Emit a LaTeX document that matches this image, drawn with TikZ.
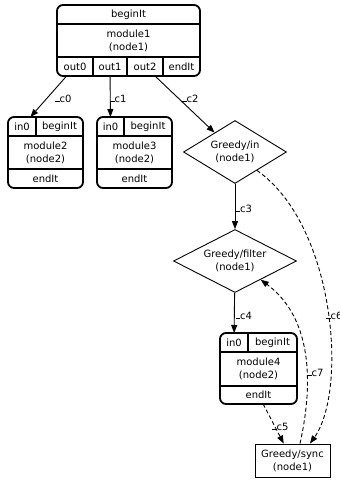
\documentclass[tikz,border=0pt]{standalone}
\usepackage{fontspec}
\setmainfont{DejaVu Sans}
\usetikzlibrary{positioning,shapes.geometric,arrows.meta}

\tikzset{
  rec/.style={rounded corners=6pt, line width=1.8pt},
  cell/.style={rectangle, inner sep=0pt, outer sep=0pt, align=center},
  sep/.style={line width=1.8pt},
  dia/.style={diamond, draw, line width=0.9pt, inner sep=0pt, aspect=2, align=center},
  box/.style={rectangle, draw, line width=0.9pt, inner sep=0pt, align=center},
  conn/.style={-{Triangle[length=8pt,width=6pt]}, line width=0.9pt},
  dconn/.style={conn, dash pattern=on 4pt off 2.5pt},
  lbl/.style={anchor=base west, inner sep=0pt}
}
\newcommand{\tck}{\rule{4.5pt}{0.8pt}}

\begin{document}
\begin{tikzpicture}[x=1pt,y=-1pt,font=\fontsize{10}{13}\selectfont]
  \useasboundingbox (0,0) rectangle (340,480);

  % module1
  \node[cell, minimum width=143, minimum height=19] (m1top) at (128.5,14.5) {beginIt};
  \node[cell, minimum width=143, minimum height=33] (m1mid) [below=0pt of m1top] {module1\\(node1)};
  \node[cell, minimum width=36, minimum height=19] (m1out0) [below right=0pt of m1mid.south west] {out0};
  \node[cell, minimum width=34, minimum height=19] (m1out1) [right=0pt of m1out0] {out1};
  \node[cell, minimum width=36, minimum height=19] (m1out2) [right=0pt of m1out1] {out2};
  \node[cell, minimum width=37, minimum height=19] (m1end) [right=0pt of m1out2] {endIt};
  \draw[rec] (m1top.north west) rectangle (m1end.south east);
  \draw[sep] (m1mid.north west) -- (m1mid.north east);
  \draw[sep] (m1mid.south west) -- (m1mid.south east);
  \draw[sep] (m1out0.north east) -- (m1out0.south east);
  \draw[sep] (m1out1.north east) -- (m1out1.south east);
  \draw[sep] (m1out2.north east) -- (m1out2.south east);

  % module2
  \node[cell, minimum width=28, minimum height=19] (m2in0) at (22,126.5) {in0};
  \node[cell, minimum width=47, minimum height=19] (m2top) [right=0pt of m2in0] {beginIt};
  \node[cell, minimum width=75, minimum height=33] (m2mid) [below right=0pt of m2in0.south west] {module2\\(node2)};
  \node[cell, minimum width=75, minimum height=19] (m2end) [below=0pt of m2mid] {endIt};
  \draw[rec] (m2in0.north west) rectangle (m2end.south east);
  \draw[sep] (m2mid.north west) -- (m2mid.north east);
  \draw[sep] (m2mid.south west) -- (m2mid.south east);
  \draw[sep] (m2in0.north east) -- (m2in0.south east);

  % module3
  \node[cell, minimum width=27, minimum height=19] (m3in0) at (110.5,126.5) {in0};
  \node[cell, minimum width=48, minimum height=19] (m3top) [right=0pt of m3in0] {beginIt};
  \node[cell, minimum width=75, minimum height=33] (m3mid) [below right=0pt of m3in0.south west] {module3\\(node2)};
  \node[cell, minimum width=75, minimum height=19] (m3end) [below=0pt of m3mid] {endIt};
  \draw[rec] (m3in0.north west) rectangle (m3end.south east);
  \draw[sep] (m3mid.north west) -- (m3mid.north east);
  \draw[sep] (m3mid.south west) -- (m3mid.south east);
  \draw[sep] (m3in0.north east) -- (m3in0.south east);

  % greedy nodes
  \node[dia, minimum width=103, minimum height=63] (gin) at (235,152) {Greedy/in\\(node1)};
  \node[dia, minimum width=123, minimum height=63] (gfil) at (235,261) {Greedy/filter\\(node1)};
  \node[box, minimum width=75, minimum height=33] (gsync) at (292.5,460.5) {Greedy/sync\\(node1)};

  % module4
  \node[cell, minimum width=28, minimum height=19] (m4in0) at (234,342.5) {in0};
  \node[cell, minimum width=49, minimum height=19] (m4top) [right=0pt of m4in0] {beginIt};
  \node[cell, minimum width=77, minimum height=34] (m4mid) [below right=0pt of m4in0.south west] {module4\\(node2)};
  \node[cell, minimum width=77, minimum height=18] (m4end) [below=0pt of m4mid] {endIt};
  \draw[rec] (m4in0.north west) rectangle (m4end.south east);
  \draw[sep] (m4mid.north west) -- (m4mid.north east);
  \draw[sep] (m4mid.south west) -- (m4mid.south east);
  \draw[sep] (m4in0.north east) -- (m4in0.south east);

  % connections
  \draw[conn] (m1out0) -- (m2in0);
  \draw[conn] (m1out1) -- (m3in0);
  \draw[conn] (m1out2) -- (gin);
  \draw[conn] (gin) -- (gfil);
  \draw[conn] (gfil) -- (m4in0);
  \draw[dconn] (m4end) -- (gsync);
  \draw[dconn] (gin.-40) .. controls (335,225) and (348,390) .. ([xshift=17.5pt]gsync.north);
  \draw[dconn] ([xshift=7.5pt]gsync.north) .. controls (312,390) and (315,320) .. (gfil.-36.5);

  % labels
  \node[lbl] (lc0) at (55,102) {\tck c0};
  \node[lbl] (lc1) at (110,102) {\tck c1};
  \node[lbl] (lc2) at (182,102) {\tck c2};
  \node[lbl] (lc3) at (235.5,212) {\tck c3};
  \node[lbl] (lc4) at (235.5,319) {\tck c4};
  \node[lbl] (lc5) at (272,430) {\tck c5};
  \node[lbl] (lc6) at (326,319) {\tck c6};
  \node[lbl] (lc7) at (307,376) {\tck c7};
\end{tikzpicture}
\end{document}
